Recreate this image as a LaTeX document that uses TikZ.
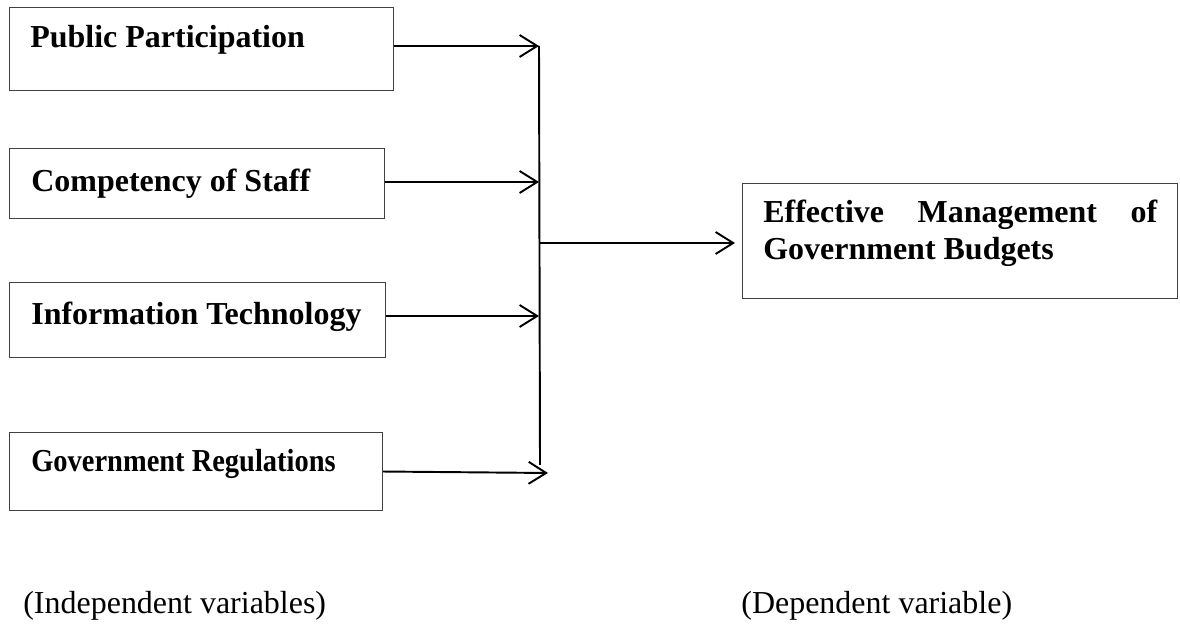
\documentclass[tikz,border=0pt]{standalone}
\usepackage{fontspec}
\setmainfont{Liberation Serif}
\usetikzlibrary{arrows.meta, positioning}

\tikzset{
    varbox/.style={draw=black!75, line width=0.6pt, anchor=north west, inner sep=0pt},
    vartext/.style={anchor=base west, inner sep=0pt, font=\fontsize{18.2}{21}\selectfont\bfseries},
    caption/.style={anchor=base west, inner sep=0pt, font=\fontsize{18.2}{21}\selectfont},
    flow/.style={->, line width=1.1pt},
}

\begin{document}
\begin{tikzpicture}[x=0.02cm, y=-0.02cm, >={Straight Barb[length=10pt, width=12.5pt]}]
    \useasboundingbox (0,0) rectangle (1180,624);

    % Independent variables
    \node[varbox, minimum width=7.68cm, minimum height=1.66cm] (pp) at (9,7) {};
    \node[vartext] (pptxt) at (30,48) {Public Participation};
    \node[varbox, minimum width=7.5cm, minimum height=1.4cm] (cs) at (9,148) {};
    \node[vartext] (cstxt) at (31,192) {Competency of Staff};
    \node[varbox, minimum width=7.52cm, minimum height=1.5cm] (it) at (9,282) {};
    \node[vartext] (ittxt) at (31,325) {Information Technology};
    \node[varbox, minimum width=7.46cm, minimum height=1.56cm] (gr) at (9,432) {};
    \node[vartext] (grtxt) at (31,472) {\scalebox{0.89}[1]{Government Regulations}};

    % Dependent variable
    \node[varbox, minimum width=8.7cm, minimum height=2.3cm] (emgb) at (742,183) {};
    \node[vartext, text width=7.88cm, align=justify] (emgbtxt) at (763,223)
        {Effective\hfill Management\hfill of\\Government Budgets};

    % Collecting line
    \coordinate (b1) at (539,46);
    \coordinate (b2) at (539,182);
    \coordinate (b3) at (539,316);
    \coordinate (b4) at (540,465);
    \coordinate (g4) at (548,473);
    \coordinate (hub) at (540,243);

    \draw[line width=1.1pt] (b1) -- (b4);
    \draw[flow] (b1 -| pp.east) -- (b1);
    \draw[flow] (b2 -| cs.east) -- (b2);
    \draw[flow] (b3 -| it.east) -- (b3);
    \draw[flow] (gr.east) -- (g4);
    \draw[flow, shorten >=0.14cm] (hub) -- (hub -| emgb.west);

    % Captions
    \node[caption] (indep) at (23,613) {(Independent variables)};
    \node[caption] (dep) at (741,613) {(Dependent variable)};
\end{tikzpicture}
\end{document}
